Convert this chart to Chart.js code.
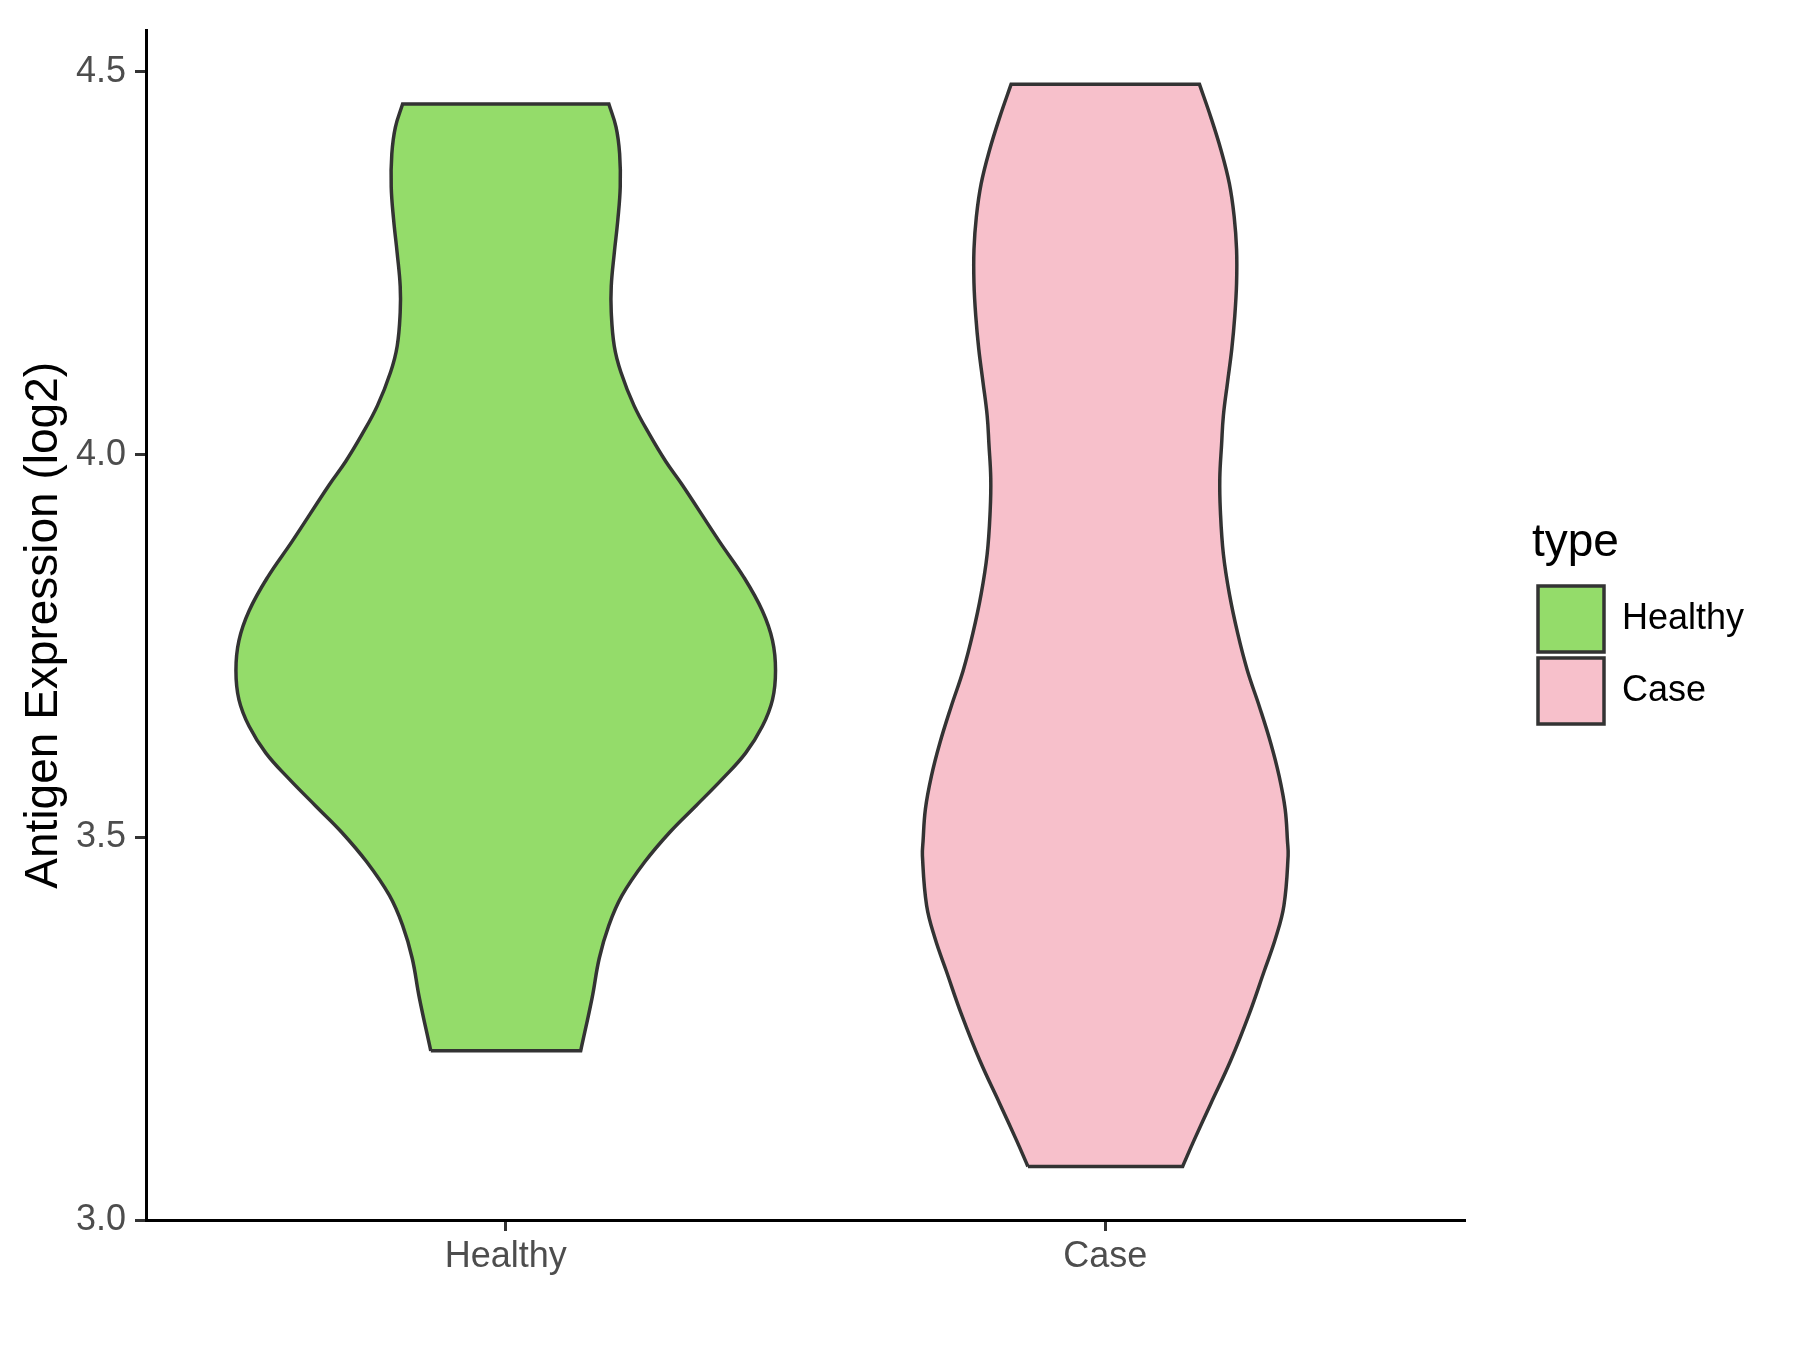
<!DOCTYPE html>
<html lang="en">
<head>
<meta charset="UTF-8">
<title>Antigen Expression</title>
<script src="https://cdn.jsdelivr.net/npm/chart.js"></script>
<style>
  body { margin: 0; background: #fff; }
  canvas { display: block; }
</style>
</head>
<body>
<canvas id="violinChart" width="1800" height="1350"></canvas>
<script>
// groups along the x axis (placed at 1 and 2)
const categories = ["Healthy", "Case"];
const yTicks = [3.0, 3.5, 4.0, 4.5];

// violin outlines, top to bottom:
// expression value (log2) and half width of the violin (x units)
const healthyY = [4.458, 4.428, 4.393, 4.350, 4.307, 4.263, 4.220, 4.186, 4.142, 4.108,
                  4.064, 4.026, 3.991, 3.961, 3.887, 3.840, 3.796, 3.757, 3.718, 3.680,
                  3.645, 3.610, 3.576, 3.541, 3.507, 3.468, 3.424, 3.385, 3.342, 3.290,
                  3.221];
const healthyHalfWidth = [0.172, 0.184, 0.190, 0.191, 0.187, 0.181, 0.176, 0.176, 0.181, 0.192,
                          0.214, 0.240, 0.267, 0.294, 0.356, 0.397, 0.428, 0.445, 0.450, 0.445,
                          0.428, 0.400, 0.361, 0.317, 0.274, 0.232, 0.194, 0.172, 0.156, 0.144,
                          0.125];

const caseY = [4.484, 4.441, 4.398, 4.354, 4.311, 4.268, 4.224, 4.181, 4.138, 4.095,
               4.051, 4.013, 3.969, 3.926, 3.870, 3.818, 3.766, 3.718, 3.671, 3.623,
               3.580, 3.537, 3.494, 3.476, 3.411, 3.368, 3.325, 3.269, 3.208, 3.152,
               3.104, 3.070];
const caseHalfWidth = [0.157, 0.176, 0.193, 0.207, 0.215, 0.219, 0.219, 0.216, 0.211, 0.204,
                       0.197, 0.194, 0.191, 0.192, 0.197, 0.207, 0.221, 0.237, 0.257, 0.276,
                       0.290, 0.300, 0.304, 0.305, 0.298, 0.284, 0.265, 0.240, 0.209, 0.176,
                       0.148, 0.129];

const FONT = "'Liberation Sans', Arial, sans-serif";
const fillColors = ["#94DC6A", "#F7C0CB"];
const outline = "#333333";

// layout of the page (pixels)
const canvasW = 1800;
const panelRight = 1465;
const spacerW = 67;

// closed outline: bottom edge, right side going up, top edge, left side going down.
// corner points are doubled so the flat ends stay straight with a smoothed line
function violinShape(center, ys, hw) {
  const pts = [];
  const add = (x, y, times) => { for (let k = 0; k < times; k++) pts.push({ x: x, y: y }); };
  const b = ys.length - 1;
  add(center - hw[b], ys[b], 2);
  add(center + hw[b], ys[b], 2);
  for (let i = b - 1; i >= 1; i--) add(center + hw[i], ys[i], 1);
  add(center + hw[0], ys[0], 2);
  add(center - hw[0], ys[0], 2);
  for (let i = 1; i <= b - 1; i++) add(center - hw[i], ys[i], 1);
  add(center - hw[b], ys[b], 2);
  return pts;
}

const axisGrid = {
  display: true,
  drawOnChartArea: false,
  drawTicks: true,
  tickLength: 11,
  tickWidth: 3,
  tickColor: outline
};
const axisBorder = { display: true, color: "#000000", width: 3 };

const ctx = document.getElementById("violinChart").getContext("2d");
const chart = new Chart(ctx, {
  type: "line",
  data: {
    datasets: [
      {
        label: categories[0],
        data: violinShape(1, healthyY, healthyHalfWidth),
        backgroundColor: fillColors[0],
        borderColor: outline,
        borderWidth: 3.5,
        fill: "shape",
        tension: 0.4,
        pointRadius: 0
      },
      {
        label: categories[1],
        data: violinShape(2, caseY, caseHalfWidth),
        backgroundColor: fillColors[1],
        borderColor: outline,
        borderWidth: 3.5,
        fill: "shape",
        tension: 0.4,
        pointRadius: 0
      }
    ]
  },
  options: {
    responsive: false,
    animation: false,
    events: [],
    layout: { padding: { top: 23, right: 50, bottom: 0, left: 0 } },
    plugins: {
      tooltip: { enabled: false },
      legend: {
        position: "right",
        fullSize: false,
        align: "center",
        title: {
          display: true,
          text: "type",
          position: "start",
          color: "#000000",
          font: { size: 46, family: FONT },
          padding: { top: 0, bottom: 4 }
        },
        labels: {
          boxWidth: 66,
          boxHeight: 66,
          padding: 6,
          color: "#000000",
          font: { size: 36, family: FONT }
        }
      }
    },
    scales: {
      x: {
        type: "linear",
        min: 0.4,
        max: 2.6,
        afterBuildTicks: (s) => { s.ticks = categories.map((c, i) => ({ value: i + 1 })); },
        afterFit: (s) => { s.height = 130; },
        grid: axisGrid,
        border: axisBorder,
        ticks: {
          color: "#4D4D4D",
          font: { size: 36, family: FONT },
          padding: 4,
          maxRotation: 0,
          callback: (v) => categories[Math.round(v) - 1] || ""
        }
      },
      y: {
        type: "linear",
        min: 3.0,
        max: 4.554,
        afterBuildTicks: (s) => { s.ticks = yTicks.map((v) => ({ value: v })); },
        afterFit: (s) => { s.width = 146; },
        grid: axisGrid,
        border: axisBorder,
        ticks: {
          color: "#4D4D4D",
          font: { size: 36, family: FONT },
          padding: 9,
          callback: (v) => Number(v).toFixed(1)
        },
        title: {
          display: true,
          text: "Antigen Expression (log2)",
          color: "#000000",
          font: { size: 46, family: FONT },
          padding: { top: 17, bottom: 0 }
        }
      },
      // empty axis that only keeps the legend away from the panel
      spacer: {
        type: "linear",
        axis: "y",
        position: "right",
        display: true,
        grid: { display: false },
        border: { display: false },
        ticks: { display: false },
        afterFit: (s) => { s.width = spacerW; }
      }
    }
  }
});

// put the panel's right edge where the original has it, whatever width the legend took
chart.options.layout.padding.right = Math.max(0, canvasW - panelRight - spacerW - chart.legend.width);
chart.update();
</script>
</body>
</html>
